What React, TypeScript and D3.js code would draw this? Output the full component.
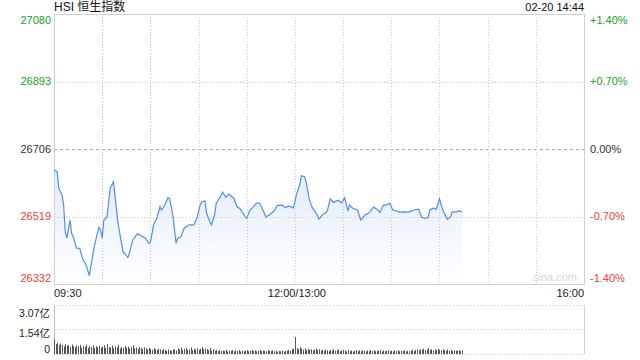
import React from "react";
import * as d3 from "d3";

// trading minutes since 09:30 (lunch break removed) and index level
const priceMinutes = [0,2,3,5,6,7,8,10,11,12,14,16,18,20,22,25,27,28,29,30,31,33,35,37,40,43,46,47,49,52,57,59,60,62,64,66,67,69,71,72,74,76,77,79,81,84,87,89,91,92,94,95,97,98,100,101,103,105,107,109,112,114,116,119,120,122,124,126,128,131,132,134,137,139,142,144,146,149,150,151,153,154,156,157,159,161,164,165,167,170,172,174,177,179,181,183,184,186,189,191,194,196,199,201,203,205,207,209,211,213,215,218,220,222,224,227,229,231,233,234,236,238,240,242,243,245,247,248,251,252,254];
const prices = [26648,26643,26597,26579,26551,26477,26459,26509,26472,26463,26431,26431,26400,26385,26355,26435,26472,26489,26482,26459,26509,26518,26597,26615,26496,26421,26406,26417,26454,26471,26459,26445,26446,26496,26514,26546,26537,26551,26571,26568,26523,26445,26459,26463,26486,26496,26496,26514,26551,26560,26562,26528,26505,26496,26523,26556,26569,26586,26572,26581,26569,26546,26540,26518,26514,26537,26545,26556,26556,26528,26518,26523,26534,26549,26551,26543,26548,26543,26560,26581,26606,26632,26629,26615,26565,26542,26523,26512,26523,26532,26568,26558,26564,26557,26571,26534,26551,26542,26537,26509,26525,26528,26545,26539,26531,26550,26551,26556,26537,26535,26531,26532,26531,26533,26537,26539,26517,26514,26516,26537,26542,26539,26568,26537,26528,26511,26518,26532,26532,26535,26532];

// volume per minute (亿)
const volumes = [
0.92,0.62,0.70,0.55,0.66,0.58,0.48,0.62,0.52,0.57,0.45,0.60,0.50,0.42,0.55,
0.48,0.58,0.40,0.52,0.46,0.60,0.38,0.50,0.44,0.55,0.36,0.48,0.42,0.52,0.40,
0.46,0.55,0.38,0.62,0.44,0.40,0.52,0.36,0.48,0.42,0.58,0.35,0.45,0.40,0.50,
0.38,0.46,0.34,0.42,0.55,0.36,0.40,0.32,0.44,0.38,0.30,0.42,0.35,0.28,0.38,
0.32,0.26,0.36,0.30,0.24,0.34,0.28,0.22,0.30,0.26,0.20,0.28,0.24,0.18,0.26,
0.30,0.22,0.36,0.28,0.40,0.25,0.32,0.38,0.26,0.30,0.42,0.24,0.34,0.28,0.36,
0.26,0.32,0.44,0.28,0.36,0.30,0.24,0.38,0.22,0.30,0.20,0.26,0.18,0.24,0.20,
0.22,0.18,0.26,0.16,0.22,0.20,0.24,0.17,0.21,0.19,0.25,0.16,0.22,0.18,0.20,
0.24,0.18,0.22,0.26,0.19,0.23,0.17,0.21,0.25,0.18,0.22,0.20,0.16,0.24,0.19,
0.18,0.22,0.16,0.20,0.15,0.19,0.17,0.21,0.16,0.18,0.22,0.26,0.20,0.30,0.34,
1.07,0.38,0.30,0.42,0.34,0.28,0.36,0.24,0.32,0.26,0.30,0.22,0.28,0.34,0.24,
0.30,0.22,0.26,0.20,0.28,0.24,0.18,0.26,0.22,0.30,0.20,0.24,0.28,0.18,0.22,
0.26,0.20,0.16,0.24,0.18,0.22,0.15,0.20,0.26,0.18,0.22,0.17,0.24,0.20,0.16,
0.22,0.18,0.26,0.20,0.24,0.17,0.21,0.19,0.25,0.16,0.22,0.18,0.20,0.24,0.18,
0.20,0.16,0.22,0.18,0.24,0.17,0.21,0.19,0.23,0.16,0.20,0.18,0.22,0.26,0.19,
0.24,0.28,0.22,0.30,0.26,0.34,0.24,0.28,0.38,0.26,0.30,0.22,0.28,0.24,0.32,
0.26,0.22,0.30,0.24,0.20,0.28,0.22,0.26,0.18,0.24,0.20,0.22,0.26,0.18,0.22
];

const priceTicks = [27080, 26893, 26706, 26519, 26332];
const pctTicks = ["+1.40%", "+0.70%", "0.00%", "-0.70%", "-1.40%"];
const volTicks = [3.07, 1.54, 0];
const volTickLabels = ["3.07亿", "1.54亿", "0"];
const timeLabels = ["09:30", "12:00/13:00", "16:00"];
const timeLabelMinutes = [0, 150, 330];
const gridMinutes = [30, 60, 90, 120, 150, 180, 210, 240, 270, 300];

const W = 640, H = 360;
const L = 54, R = 584, T = 14, B = 284;
const VT = 305, VB = 354;
const FONT = "Arial, 'Liberation Sans', 'Noto Sans CJK SC', sans-serif";
const GREEN = "#1aa31a";
const RED = "#f03c3c";
const DARK = "#333";

export default function App() {
  const x = d3.scaleLinear().domain([0, 330]).range([L, R]);
  const y = d3.scaleLinear().domain([26332, 27080]).range([B, T]);
  const yv = d3.scaleLinear().domain([0, 3.07]).range([VB, VT]);

  const pts = priceMinutes.map((m, i) => [m, prices[i]] as [number, number]);
  const line = d3.line<[number, number]>().x(d => x(d[0])).y(d => y(d[1]));
  const area = d3.area<[number, number]>().x(d => x(d[0])).y0(B).y1(d => y(d[1]));

  const colorFor = (i: number) => (i < 2 ? GREEN : i === 2 ? DARK : RED);
  const labelY = (i: number) => (i === 0 ? y(priceTicks[i]) + 6 : i === 4 ? y(priceTicks[i]) - 6 : y(priceTicks[i]));

  return (
    <svg width={W} height={H} style={{ position: "absolute", left: 0, top: 0, background: "#fff" }} fontFamily={FONT}>
      <defs>
        <linearGradient id="fillg" x1="0" y1="0" x2="0" y2="1">
          <stop offset="0%" stopColor="#dfe9fb" stopOpacity={0.9} />
          <stop offset="100%" stopColor="#ffffff" stopOpacity={0.9} />
        </linearGradient>
      </defs>
      <rect width={W} height={H} fill="#fff" />
      {/* title */}
      <text x={L} y={11} fontSize={12} fill="#111">HSI 恒生指数</text>
      <text x={R} y={11} fontSize={11} fill="#111" textAnchor="end">02-20 14:44</text>

      {/* area + line */}
      <path d={area(pts) || ""} fill="url(#fillg)" />

      {/* grid */}
      {priceTicks.slice(1, 4).map((v, i) => (
        <line key={"h" + i} x1={L} x2={R} y1={Math.round(y(v)) + 0.5} y2={Math.round(y(v)) + 0.5}
          stroke={i === 1 ? "#aaa" : "#c8c8c8"} strokeDasharray={i === 1 ? "3,3" : "1,2"} />
      ))}
      {gridMinutes.map((m, i) => (
        <line key={"v" + i} x1={Math.round(x(m)) + 0.5} x2={Math.round(x(m)) + 0.5} y1={T} y2={B}
          stroke="#c8c8c8" strokeDasharray="1,2" />
      ))}
      <rect x={L + 0.5} y={T + 0.5} width={R - L} height={B - T} fill="none" stroke="#d0d0d0" />

      <path d={line(pts) || ""} fill="none" stroke="#4f8ef0" strokeWidth={1.2} />

      {/* left axis */}
      {priceTicks.map((v, i) => (
        <text key={"pl" + i} x={L - 3} y={labelY(i)} dy="0.35em" fontSize={11} textAnchor="end" fill={colorFor(i)}>{v}</text>
      ))}
      {pctTicks.map((t, i) => (
        <text key={"pr" + i} x={R + 6} y={labelY(i)} dy="0.35em" fontSize={11} fill={colorFor(i)}>{t}</text>
      ))}

      <text x={R - 7} y={B - 3} fontSize={11} fill="#d6d6d6" textAnchor="end">sina.com</text>

      {/* time labels */}
      {timeLabels.map((t, i) => (
        <text key={"t" + i} x={i === 1 ? x(timeLabelMinutes[i]) + 2 : x(timeLabelMinutes[i])} y={297} fontSize={11} fill="#222"
          textAnchor={i === 0 ? "start" : i === 1 ? "middle" : "end"}>{t}</text>
      ))}

      {/* volume panel */}
      {volTicks.slice(0, 2).map((v, i) => (
        <line key={"vg" + i} x1={L} x2={R} y1={Math.round(yv(v)) + 0.5} y2={Math.round(yv(v)) + 0.5}
          stroke="#c8c8c8" strokeDasharray="1,2" />
      ))}
      <line x1={L} x2={R} y1={VB + 0.5} y2={VB + 0.5} stroke="#c8c8c8" strokeDasharray="1,2" />
      <line x1={L + 0.5} x2={L + 0.5} y1={VT} y2={VB} stroke="#bbb" />
      <line x1={R + 0.5} x2={R + 0.5} y1={VT} y2={VB} stroke="#d0d0d0" />
      {volumes.map((v, i) => (
        <line key={"vb" + i} x1={Math.round(x(i)) + 0.5} x2={Math.round(x(i)) + 0.5} y1={VB} y2={yv(v)}
          stroke="#555" strokeWidth={1} />
      ))}
      {volTickLabels.map((t, i) => (
        <text key={"vl" + i} x={L - 4} y={i === 0 ? 313 : i === 1 ? 333 : 349} dy="0.35em" fontSize={10.5}
          textAnchor="end" fill="#222">{t}</text>
      ))}
    </svg>
  );
}
